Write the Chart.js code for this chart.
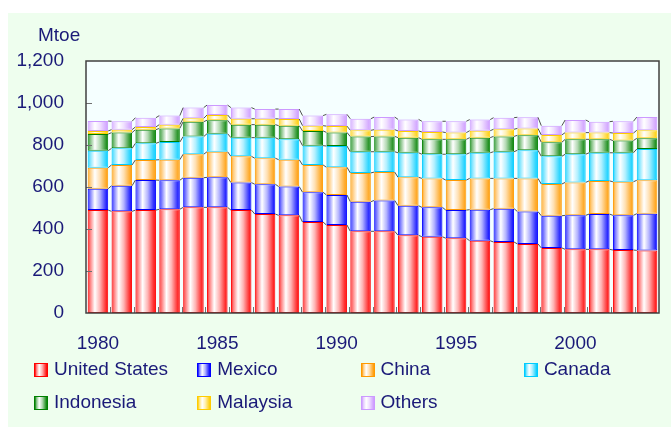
<!DOCTYPE html>
<html>
<head>
<meta charset="utf-8">
<script src="https://cdn.jsdelivr.net/npm/chart.js@4.4.1/dist/chart.umd.min.js"></script>
<style>
html, body { margin:0; padding:0; background:#ffffff; }
#wrap { position:relative; width:671px; height:427px; overflow:hidden;
        font-family:"Liberation Sans", Arial, sans-serif; color:#1a1a78; }
#bg { position:absolute; left:8px; top:13px; width:663px; height:414px; background:#eefeee; }
#chart { position:absolute; left:0; top:0; }
#unit { position:absolute; left:38px; top:24px; font-size:19px; line-height:22px; }
.item { position:absolute; font-size:19px; line-height:22px; white-space:nowrap; }
.item .box { position:absolute; left:0; top:5px; width:12px; height:12px; border:1px solid; }
.item .txt { position:absolute; left:20px; top:0; }
</style>
</head>
<body>
<div id="wrap">
  <div id="bg"></div>
  <canvas id="chart" width="671" height="427"></canvas>
  <div id="unit">Mtoe</div>
  <div id="legend"></div>
</div>
<script>
// 年ごとの生産量 (Mtoe)
const years = [1980,1981,1982,1983,1984,1985,1986,1987,1988,1989,1990,1991,
               1992,1993,1994,1995,1996,1997,1998,1999,2000,2001,2002,2003];

const seriesNames  = ["United States","Mexico","China","Canada","Indonesia","Malaysia","Others"];
const seriesColors = ["#ff0000","#0000ff","#ff9900","#00ccff","#008000","#ffcc00","#cc99ff"];

const usValues        = [490,484,490,494,503,503,490,471,465,433,419,389,389,370,363,356,344,338,329,310,303,303,300,298];
const mexicoValues    = [102,122,143,138,141,143,131,142,137,142,143,141,147,141,140,134,148,159,154,153,162,168,165,175];
const chinaValues     = [100, 99, 96, 98,112,122,125,124,128,130,132,137,135,135,138,143,149,144,158,151,157,158,160,159];
const canadaValues    = [ 81, 79, 79, 84, 84, 86, 89, 98, 97, 92,101,101, 97,117,115,123,122,127,134,132,134,134,138,149];
const indonesiaValues = [ 79, 75, 65, 65, 71, 64, 62, 62, 65, 70, 65, 72, 73, 72, 71, 71, 72, 73, 71, 67, 71, 64, 58, 51];
const malaysiaValues  = [ 15, 14, 13, 18, 16, 25, 28, 28, 32, 25, 30, 30, 32, 32, 35, 32, 33, 34, 33, 35, 32, 32, 36, 38];
const othersValues    = [ 47, 40, 44, 43, 51, 47, 53, 46, 47, 48, 56, 55, 60, 55, 51, 54, 53, 55, 53, 44, 60, 52, 56, 63];

const seriesData = [usValues, mexicoValues, chinaValues, canadaValues, indonesiaValues, malaysiaValues, othersValues];

const navy = "#1a1a78";
const fontFamily = "'Liberation Sans', Arial, sans-serif";
const barPct = 0.86;

// 白と混ぜる
function lighten(hex, t){
    let r = parseInt(hex.substr(1,2),16), g = parseInt(hex.substr(3,2),16), b = parseInt(hex.substr(5,2),16);
    r = Math.round(r + (255-r)*t); g = Math.round(g + (255-g)*t); b = Math.round(b + (255-b)*t);
    return "rgb(" + r + "," + g + "," + b + ")";
}

// グラデーションの色の位置 (左端→右端)
const gradStops = [[0, 0], [0.1, 0.45], [0.35, 1], [0.6, 0.7], [0.85, 0.25], [1, 0]];

// 棒ごとに横方向のグラデーションを作る
function barFill(color){
    return function(c){
        const chart = c.chart;
        const xs = chart.scales.x;
        if (!chart.chartArea || !xs || c.dataIndex === undefined) return color;
        const cx = xs.getPixelForValue(c.dataIndex);
        const w  = (xs.right - xs.left) / years.length * barPct;
        const g  = chart.ctx.createLinearGradient(cx - w/2, 0, cx + w/2, 0);
        for (let s of gradStops){
            g.addColorStop(s[0], lighten(color, s[1]));
        }
        return g;
    };
}

// 背景・枠・目盛り・系列線
const framePlugin = {
    id: "frame",
    beforeDatasetsDraw(chart){
        const a = chart.chartArea, ctx = chart.ctx;
        ctx.save();
        ctx.fillStyle = "#f5ffff";
        ctx.fillRect(a.left, a.top, a.right - a.left, a.bottom - a.top);
        ctx.restore();
    },
    afterDatasetsDraw(chart){
        const ctx = chart.ctx;
        ctx.save();
        ctx.strokeStyle = "#505050";
        ctx.lineWidth = 1;
        chart.data.datasets.forEach(function(ds, d){
            const meta = chart.getDatasetMeta(d);
            for (let i = 0; i < meta.data.length - 1; i++){
                const a = meta.data[i], b = meta.data[i+1];
                ctx.beginPath();
                ctx.moveTo(a.x + a.width/2, a.y);
                ctx.lineTo(b.x - b.width/2, b.y);
                ctx.stroke();
            }
        });
        ctx.restore();
    },
    afterDraw(chart){
        const a = chart.chartArea, ctx = chart.ctx;
        const xs = chart.scales.x, ys = chart.scales.y;
        ctx.save();
        ctx.strokeStyle = "#707070";
        ctx.lineWidth = 1;
        for (let v = 200; v < 1200; v += 200){
            const y = Math.round(ys.getPixelForValue(v)) + 0.5;
            ctx.beginPath(); ctx.moveTo(a.left, y); ctx.lineTo(a.left + 6, y); ctx.stroke();
        }
        const step = (xs.right - xs.left) / years.length;
        for (let i = 1; i < years.length; i++){
            const x = Math.round(xs.left + step*i) + 0.5;
            ctx.beginPath(); ctx.moveTo(x, a.bottom); ctx.lineTo(x, a.bottom - 6); ctx.stroke();
        }
        ctx.strokeStyle = "#404040";
        ctx.lineWidth = 1.5;
        ctx.strokeRect(a.left, a.top, a.right - a.left, a.bottom - a.top);
        ctx.restore();
    }
};

const datasets = seriesNames.map(function(name, i){
    return {
        label: name,
        data: seriesData[i],
        backgroundColor: barFill(seriesColors[i]),
        borderColor: seriesColors[i],
        borderWidth: 1,
        borderSkipped: false,
        barPercentage: barPct,
        categoryPercentage: 1
    };
});

const ctx = document.getElementById("chart").getContext("2d");
const myChart = new Chart(ctx, {
    type: "bar",
    data: { labels: years, datasets: datasets },
    options: {
        responsive: false,
        animation: false,
        layout: { padding: { top: 61, right: 12, bottom: 74, left: 0 } },
        plugins: { legend: { display: false }, tooltip: { enabled: false } },
        scales: {
            x: {
                stacked: true,
                grid: { display: false, drawTicks: false },
                border: { display: false },
                ticks: {
                    autoSkip: false, maxRotation: 0, padding: 19,
                    color: navy, font: { family: fontFamily, size: 19 },
                    callback: function(v, i){ return years[i] % 5 === 0 ? String(years[i]) : ""; }
                },
                afterFit: function(s){ s.height = 40; }
            },
            y: {
                stacked: true,
                min: 0, max: 1200,
                grid: { display: false, drawTicks: false },
                border: { display: false },
                ticks: {
                    stepSize: 200, padding: 22,
                    color: navy, font: { family: fontFamily, size: 19 },
                    callback: function(v){ return v.toLocaleString("en-US"); }
                },
                afterFit: function(s){ s.width = 86; }
            }
        }
    },
    plugins: [framePlugin]
});

// 凡例 (4列)
const legend = document.getElementById("legend");
seriesNames.forEach(function(name, i){
    const col = i % 4, row = Math.floor(i / 4);
    const item = document.createElement("div");
    item.className = "item";
    item.style.left = (34 + col * 163.3) + "px";
    item.style.top  = (358 + row * 32.5) + "px";
    const box = document.createElement("span");
    box.className = "box";
    box.style.borderColor = seriesColors[i];
    let stops = gradStops.map(function(s){ return lighten(seriesColors[i], s[1]) + " " + (s[0]*100) + "%"; });
    box.style.background = "linear-gradient(to right," + stops.join(",") + ")";
    const txt = document.createElement("span");
    txt.className = "txt";
    txt.textContent = name;
    item.appendChild(box);
    item.appendChild(txt);
    legend.appendChild(item);
});
</script>
</body>
</html>
